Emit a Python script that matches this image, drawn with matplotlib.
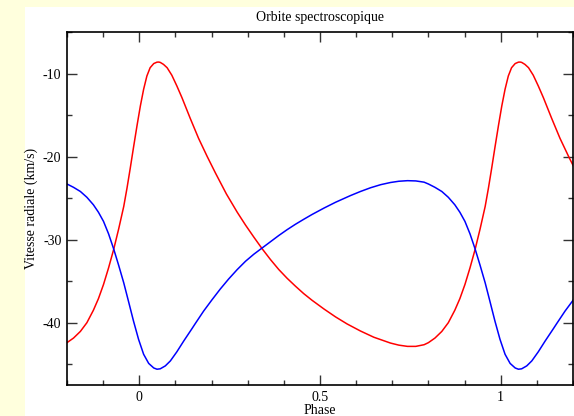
import matplotlib
matplotlib.use("Agg")
import matplotlib.pyplot as plt
from matplotlib.patches import Rectangle
from matplotlib.ticker import MultipleLocator
import numpy as np

# one period of each velocity curve, phase -0.2 .. 0.8
phase_red = [-0.200, -0.182, -0.163, -0.145, -0.127, -0.113, -0.099, -0.085,
             -0.071, -0.057, -0.043, -0.034, -0.025, -0.016, -0.006, 0.003,
             0.012, 0.021, 0.030, 0.040, 0.049, 0.054, 0.058, 0.067, 0.077,
             0.090, 0.104, 0.118, 0.141, 0.164, 0.188, 0.211, 0.241, 0.271,
             0.294, 0.317, 0.340, 0.363, 0.386, 0.409, 0.432, 0.455, 0.478,
             0.511, 0.543, 0.575, 0.612, 0.649, 0.695, 0.718, 0.742, 0.765,
             0.788]
v_red = [-42.4, -41.85, -41.05, -40.0, -38.5, -37.1, -35.4, -33.4,
         -31.2, -28.7, -26.0, -23.8, -21.4, -18.9, -16.2, -13.9,
         -11.9, -10.3, -9.3, -8.8, -8.63, -8.62, -8.66, -8.9, -9.3,
         -10.2, -11.5, -12.9, -15.4, -17.8, -20.0, -22.0, -24.5, -26.7,
         -28.25, -29.7, -31.1, -32.4, -33.6, -34.65, -35.6, -36.5, -37.3,
         -38.35, -39.3, -40.15, -41.0, -41.75, -42.45, -42.7, -42.85, -42.85,
         -42.65]

phase_blue = [-0.200, -0.182, -0.163, -0.145, -0.127, -0.113, -0.099, -0.085,
              -0.071, -0.057, -0.043, -0.030, -0.016, -0.002, 0.012, 0.026,
              0.040, 0.049, 0.058, 0.072, 0.086, 0.104, 0.123, 0.146, 0.155,
              0.178, 0.201, 0.224, 0.247, 0.271, 0.294, 0.317, 0.340, 0.363,
              0.386, 0.409, 0.432, 0.455, 0.478, 0.511, 0.543, 0.584, 0.612,
              0.640, 0.668, 0.695, 0.718, 0.742, 0.765, 0.788]
v_blue = [-23.3, -23.7, -24.2, -24.9, -25.8, -26.7, -27.8, -29.3,
          -31.1, -33.1, -35.2, -37.4, -39.8, -42.0, -43.8, -44.9,
          -45.45, -45.6, -45.55, -45.2, -44.6, -43.5, -42.2, -40.7, -40.1,
          -38.6, -37.25, -35.95, -34.75, -33.6, -32.6, -31.75, -31.0, -30.25,
          -29.5, -28.8, -28.15, -27.55, -26.97, -26.2, -25.5, -24.7, -24.2,
          -23.75, -23.38, -23.12, -22.97, -22.9, -22.93, -23.08]


def two_periods(phase, v):
    phase = np.asarray(phase)
    return np.concatenate([phase, phase + 1]), np.concatenate([v, v])


plt.rcParams['font.family'] = ['Liberation Serif', 'DejaVu Serif']
plt.rcParams['font.size'] = 10
plt.rcParams['axes.unicode_minus'] = False

fig = plt.figure(figsize=(5.74, 4.16), dpi=100, facecolor='#ffffdd')
# white page area, drawn behind the axes
fig.patches.append(Rectangle((25 / 574, 0), 1, (416 - 7) / 416,
                             transform=fig.transFigure, facecolor='white',
                             edgecolor='none', zorder=-10))

ax = fig.add_axes([67 / 574, 31 / 416, 506 / 574, 353 / 416])
ax.set_facecolor('white')

x, y = two_periods(phase_red, v_red)
ax.plot(x, y, color='#ff0000', lw=1.1, solid_joinstyle='round')
x, y = two_periods(phase_blue, v_blue)
ax.plot(x, y, color='#0000ff', lw=1.1, solid_joinstyle='round')

ax.set_xlim(-0.2, 1.2)
ax.set_ylim(-47.5, -5)
ax.xaxis.set_minor_locator(MultipleLocator(0.1))
ax.yaxis.set_major_locator(MultipleLocator(10))
ax.yaxis.set_minor_locator(MultipleLocator(5))
ax.set_xticks([0, 0.5, 1])
ax.set_xticklabels(['0', '0.5', '1'])
ax.tick_params(which='both', direction='in', top=True, right=True,
               color='#333333', width=1, labelsize=10, pad=4)
ax.tick_params(which='major', length=7)
ax.tick_params(which='minor', length=3.5)
for s in ax.spines.values():
    s.set_linewidth(1.2)

ax.set_title('Orbite spectroscopique', fontsize=10, pad=8)
ax.set_xlabel('Phase', fontsize=10, labelpad=0)
ax.set_ylabel('Vitesse radiale (km/s)', fontsize=10)
ax.yaxis.set_label_coords(-0.057, 0.5)

fig.savefig('out.png', dpi=100, facecolor=fig.get_facecolor())
